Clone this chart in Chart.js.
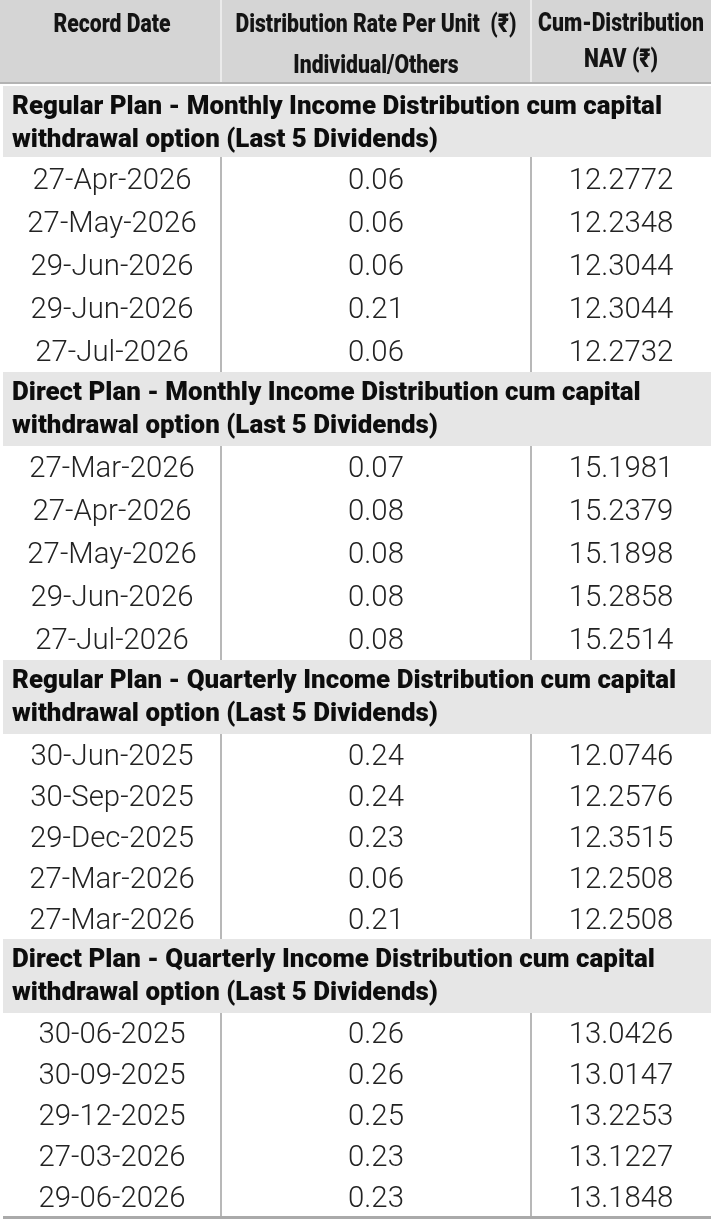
<!DOCTYPE html>
<html>
<head>
<meta charset="utf-8">
<script src="https://cdn.jsdelivr.net/npm/chart.js@4.4.1/dist/chart.umd.min.js"></script>
<style>
  html, body { margin: 0; padding: 0; background: #ffffff; }
  #wrap { width: 714px; height: 1226px; }
</style>
</head>
<body>
<div id="wrap"><canvas id="c" width="714" height="1226"></canvas></div>
<script>
// ---------------- DATA ----------------
const columnHeaders = [
  ['Record Date'],
  ['Distribution Rate Per Unit  (₹)', 'Individual/Others'],
  ['Cum-Distribution', 'NAV (₹)']
];
const sectionTitles = [
  ['Regular Plan - Monthly Income Distribution cum capital', 'withdrawal option (Last 5 Dividends)'],
  ['Direct Plan - Monthly Income Distribution cum capital', 'withdrawal option (Last 5 Dividends)'],
  ['Regular Plan - Quarterly Income Distribution cum capital', 'withdrawal option (Last 5 Dividends)'],
  ['Direct Plan - Quarterly Income Distribution cum capital', 'withdrawal option (Last 5 Dividends)']
];
const regularMonthlyDates = ['27-Apr-2026', '27-May-2026', '29-Jun-2026', '29-Jun-2026', '27-Jul-2026'];
const regularMonthlyRates = [0.06, 0.06, 0.06, 0.21, 0.06];
const regularMonthlyNav   = [12.2772, 12.2348, 12.3044, 12.3044, 12.2732];

const directMonthlyDates = ['27-Mar-2026', '27-Apr-2026', '27-May-2026', '29-Jun-2026', '27-Jul-2026'];
const directMonthlyRates = [0.07, 0.08, 0.08, 0.08, 0.08];
const directMonthlyNav   = [15.1981, 15.2379, 15.1898, 15.2858, 15.2514];

const regularQuarterlyDates = ['30-Jun-2025', '30-Sep-2025', '29-Dec-2025', '27-Mar-2026', '27-Mar-2026'];
const regularQuarterlyRates = [0.24, 0.24, 0.23, 0.06, 0.21];
const regularQuarterlyNav   = [12.0746, 12.2576, 12.3515, 12.2508, 12.2508];

const directQuarterlyDates = ['30-06-2025', '30-09-2025', '29-12-2025', '27-03-2026', '29-06-2026'];
const directQuarterlyRates = [0.26, 0.26, 0.25, 0.23, 0.23];
const directQuarterlyNav   = [13.0426, 13.0147, 13.2253, 13.1227, 13.1848];

const sectionDates = [regularMonthlyDates, directMonthlyDates, regularQuarterlyDates, directQuarterlyDates];
const sectionRates = [regularMonthlyRates, directMonthlyRates, regularQuarterlyRates, directQuarterlyRates];
const sectionNavs  = [regularMonthlyNav, directMonthlyNav, regularQuarterlyNav, directQuarterlyNav];

// ---------------- LAYOUT (table geometry in scale units) ----------------
const colEdges = [3, 221, 531, 711];
const headerBottom = 84;
const firstSectionTop = 86;
const sectionHeights = [71, 74, 74, 74];
const rowHeights = [43, 42.8, 41, 40.8];
const titleBaselineOffsets = [28, 61];
const bodyBaselineOffset = 10;
const headBaselines = [[32], [32, 73], [31, 67]];

// text styles; "ref" strings/widths calibrate the horizontal condensation of each face
const STYLES = {
  body:  { font: '300 29px Roboto, "Noto Sans", sans-serif', ref: '27-Apr-2026', refWidth: 159 },
  title: { font: '900 25px Roboto, "Noto Sans", sans-serif', ref: 'Regular Plan - Monthly Income Distribution cum capital', refWidth: 650 },
  head:  { font: '900 26px Roboto, "Noto Sans", sans-serif', ref: 'Record Date', refWidth: 117 }
};

// build blocks
const blocks = [];
let yCursor = firstSectionTop;
for (let s = 0; s < sectionTitles.length; s++) {
  const top = yCursor;
  const titleBottom = top + sectionHeights[s];
  const n = sectionDates[s].length;
  const rowsBottom = titleBottom + n * rowHeights[s];
  const centers = [];
  for (let i = 0; i < n; i++) centers.push(titleBottom + (i + 0.5) * rowHeights[s]);
  blocks.push({ top, titleBottom, rowsBottom, centers });
  yCursor = rowsBottom;
}
const tableBottom = yCursor;
const colCenters = [0, 1, 2].map(i => (colEdges[i] + colEdges[i + 1]) / 2);

const datePts = [], ratePts = [], navPts = [];
const dateTxt = [], rateTxt = [], navTxt = [];
blocks.forEach((b, s) => {
  b.centers.forEach((cy, i) => {
    const by = cy + bodyBaselineOffset;
    datePts.push({ x: colCenters[0], y: by }); dateTxt.push(sectionDates[s][i]);
    ratePts.push({ x: colCenters[1], y: by }); rateTxt.push(sectionRates[s][i].toFixed(2));
    navPts.push({ x: colCenters[2], y: by });  navTxt.push(sectionNavs[s][i].toFixed(4));
  });
});
const titlePts = [], titleTxt = [];
blocks.forEach((b, s) => {
  sectionTitles[s].forEach((line, j) => {
    titlePts.push({ x: colEdges[0] + 9, y: b.top + titleBaselineOffsets[j] });
    titleTxt.push(line);
  });
});
const headPts = [], headTxt = [];
columnHeaders.forEach((lines, c) => {
  lines.forEach((line, j) => {
    headPts.push({ x: colCenters[c], y: headBaselines[c][j] });
    headTxt.push(line);
  });
});

const tablePlugin = {
  id: 'tableCells',
  beforeDatasetsDraw(chart) {
    const { ctx, scales: { x, y } } = chart;
    const px = v => x.getPixelForValue(v);
    const py = v => y.getPixelForValue(v);
    ctx.save();
    ctx.fillStyle = '#d5d5d5';
    ctx.fillRect(px(0), py(0), px(colEdges[3]) - px(0), py(headerBottom) - py(0));
    ctx.fillStyle = '#b3b3b3';
    ctx.fillRect(px(0), py(headerBottom - 2), px(colEdges[3]) - px(0), 2);
    ctx.fillStyle = '#ebebeb';
    [1, 2].forEach(i => ctx.fillRect(px(colEdges[i]) - 1, py(0), 2, py(headerBottom - 2) - py(0)));
    blocks.forEach(b => {
      ctx.fillStyle = '#e6e6e6';
      ctx.fillRect(px(colEdges[0]), py(b.top), px(colEdges[3]) - px(colEdges[0]), py(b.titleBottom) - py(b.top));
      ctx.fillStyle = '#b8b8b8';
      [1, 2].forEach(i => ctx.fillRect(px(colEdges[i]) - 1, py(b.titleBottom), 2, py(b.rowsBottom) - py(b.titleBottom)));
    });
    ctx.fillStyle = '#aaaaaa';
    ctx.fillRect(px(colEdges[0]), py(tableBottom) - 1, px(colEdges[3]) - px(colEdges[0]), 3);
    ctx.restore();
  },
  afterDatasetsDraw(chart) {
    const { ctx } = chart;
    ctx.save();
    ctx.textBaseline = 'alphabetic';
    chart.data.datasets.forEach((ds, di) => {
      const meta = chart.getDatasetMeta(di);
      const st = STYLES[ds.textStyle];
      ctx.font = st.font;
      const sx = st.refWidth / ctx.measureText(st.ref).width;
      ctx.fillStyle = ds.textColor;
      ctx.textAlign = ds.textAlign;
      meta.data.forEach((el, i) => {
        ctx.save();
        ctx.translate(el.x, el.y);
        ctx.scale(sx, 1);
        ctx.fillText(ds.texts[i], 0, 0);
        ctx.restore();
      });
    });
    ctx.restore();
  }
};

const mk = (label, data, texts, style, align, color) => ({
  label, data, texts, textStyle: style, textAlign: align, textColor: color,
  pointRadius: 0, pointHoverRadius: 0, showLine: false
});

new Chart(document.getElementById('c'), {
  type: 'scatter',
  data: {
    datasets: [
      mk('header', headPts, headTxt, 'head', 'center', '#141414'),
      mk('sections', titlePts, titleTxt, 'title', 'left', '#0d0d0d'),
      mk('Record Date', datePts, dateTxt, 'body', 'center', '#222222'),
      mk('Rate', ratePts, rateTxt, 'body', 'center', '#222222'),
      mk('NAV', navPts, navTxt, 'body', 'center', '#222222')
    ]
  },
  options: {
    responsive: false,
    animation: false,
    devicePixelRatio: 1,
    layout: { padding: 0 },
    plugins: { legend: { display: false }, tooltip: { enabled: false } },
    events: [],
    scales: {
      x: { type: 'linear', min: 0, max: 714, display: false },
      y: { type: 'linear', min: 0, max: 1226, reverse: true, display: false }
    }
  },
  plugins: [tablePlugin]
});
</script>
</body>
</html>
